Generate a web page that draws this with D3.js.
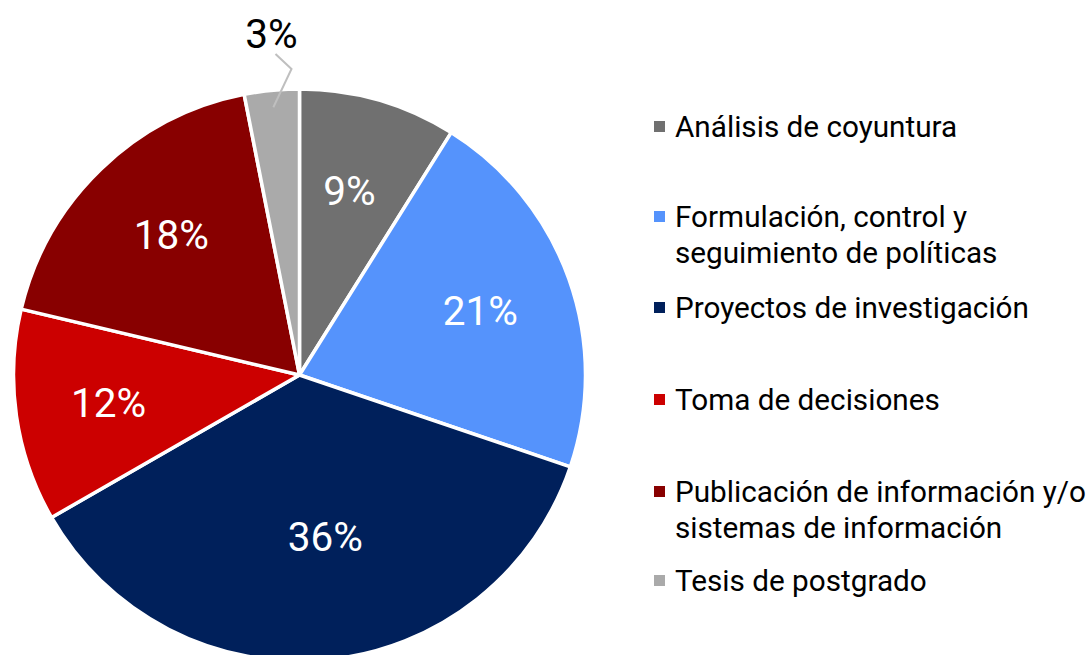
<!DOCTYPE html>
<html><head><meta charset="utf-8">
<script src="https://cdn.jsdelivr.net/npm/d3@7"></script>
<style>
html,body{margin:0;padding:0;background:#fff;}
svg{display:block;font-family:Roboto,"Liberation Sans",sans-serif;}
</style></head>
<body><svg id="chart" width="1091" height="655"></svg>
<script>
const categories = ["Análisis de coyuntura","Formulación, control y|seguimiento de políticas","Proyectos de investigación","Toma de decisiones","Publicación de información y/o|sistemas de información","Tesis de postgrado"];
const values = [8.9, 21.3, 36.5, 12.0, 18.2, 3.1];
const labels = ["9%","21%","36%","12%","18%","3%"];
const colors = ["#707070","#5593fc","#00205b","#cc0000","#880000","#aaaaaa"];

const svg = d3.select("#chart");
const cx = 299.5, cy = 375, R = 286;
const g = svg.append("g").attr("transform",`translate(${cx},${cy})`);
const pie = d3.pie().sort(null).value(d=>d);
const arcs = pie(values);
const arc = d3.arc().innerRadius(0).outerRadius(R);
g.selectAll("path.slice").data(arcs).join("path")
  .attr("class","slice").attr("d",arc)
  .attr("fill",(d,i)=>colors[i]).attr("stroke","#fff").attr("stroke-width",3.5).attr("stroke-linejoin","round");

const labelR = [192,192,162,193,195,0];
const labelShift = [-3,0,10,0,7,0];
labels.forEach((t,i)=>{
  if(i===5) return;
  const la = d3.arc().innerRadius(labelR[i]).outerRadius(labelR[i]);
  const [x,y] = la.centroid(arcs[i]);
  g.append("text").attr("x",x+labelShift[i]).attr("y",y).attr("dy","0.36em").attr("text-anchor","middle")
   .attr("font-size",40.5).attr("fill","#fff").text(t);
});
// outside label for small slice
{
  const a = arcs[5];
  const mid = (a.startAngle+a.endAngle)/2;
  const p0 = [Math.sin(mid)*(R-17), -Math.cos(mid)*(R-17)];
  const p1 = [-8, -306];
  const p2 = [-24, -321];
  g.append("polyline").attr("points",[p0,p1,p2].map(p=>p.join(",")).join(" "))
   .attr("fill","none").attr("stroke","#bfbfbf").attr("stroke-width",2);
  g.append("text").attr("x",-28).attr("y",-342).attr("dy","0.36em").attr("text-anchor","middle")
   .attr("font-size",40.5).attr("fill","#000").text(labels[5]);
}

// legend
const legY = [126,216,307,399,491,580];
const lg = svg.append("g");
categories.forEach((c,i)=>{
  const lines = c.split("|");
  lg.append("rect").attr("x",654).attr("y",legY[i]-5).attr("width",11).attr("height",11).attr("fill",colors[i]);
  lines.forEach((ln,j)=>{
    lg.append("text").attr("x",675).attr("y",legY[i]+j*36).attr("dy","0.36em")
      .attr("font-size",29.7).attr("fill","#000").text(ln);
  });
});
</script></body></html>
